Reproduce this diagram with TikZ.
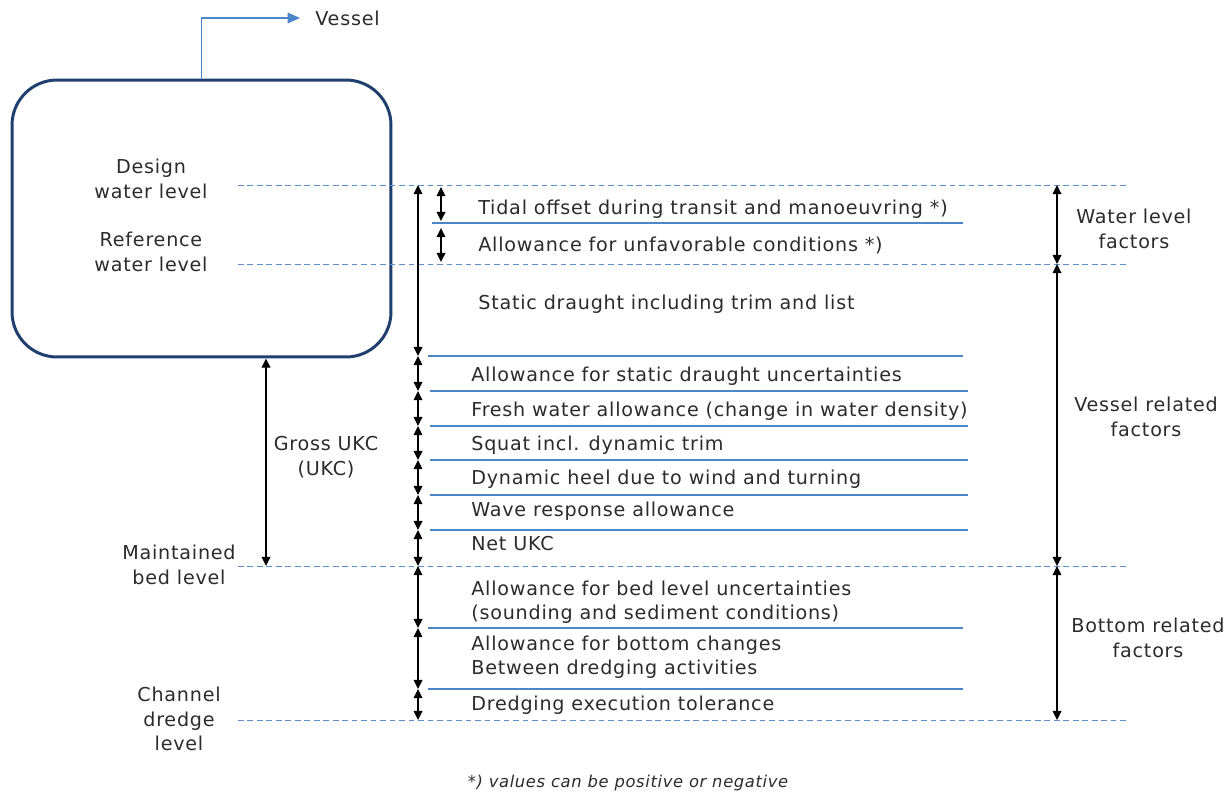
\documentclass[tikz,border=0pt]{standalone}
\usepackage{fontspec}
\setmainfont{DejaVu Sans}[LetterSpace=4]
\usepackage{xcolor}
\usetikzlibrary{positioning, arrows.meta, calc}
\definecolor{Navy}   {HTML}{1F3F6E}
\definecolor{SkyBlue}{HTML}{5B8FD0}
\definecolor{RuleBlue}{HTML}{4A86C8}
\definecolor{Ink}    {HTML}{2B2B2B}

\begin{document}
\begin{tikzpicture}[x=0.02cm, y=-0.02cm,
    txt/.style={font=\fontsize{10.9}{13.9}\selectfont, text=Ink, inner sep=0pt},
    lbl/.style={txt, align=center},
    level/.style={SkyBlue, line width=0.55pt, dash pattern=on 3.2pt off 2.2pt},
    sep/.style={RuleBlue, line width=0.6pt},
    dim/.style={black, line width=0.7pt, {Triangle[width=5pt,length=5.2pt]}-{Triangle[width=5pt,length=5.2pt]}}]
      \useasboundingbox (0,0) rectangle (1230,796);
      % ── vessel hull ─────────────────────────────────────────────────────────
      \node[draw=Navy, line width=1.7pt, rounded corners=0.9cm,
            minimum width=7.58cm, minimum height=5.54cm] (hull) at (201.5,218.5) {};
      \node[txt, anchor=west] (vessel) at (315,18) {Vessel};
      \coordinate (vtip) at (300,18);
      \draw[RuleBlue, line width=0.8pt, -{Triangle[width=6pt,length=7pt]}] (hull.north) |- (vtip);
      % ── reference levels (dashed) ───────────────────────────────────────────
      \foreach \n/\y in {dwl/185, rwl/264, mbl/566, cdl/720} {
        \coordinate (\n-l) at (238,\y);
        \coordinate (\n-r) at (1128,\y);
        \draw[level] (\n-l) -- (\n-r);
      }
      % ── level names on the left ─────────────────────────────────────────────
      \node[lbl] (dwlname) at (151,179) {Design\\water level};
      \node[lbl] (rwlname) at (151,252) {Reference\\water level};
      \node[lbl] (mblname) at (179,565) {Maintained\\bed level};
      \node[lbl] (cdlname) at (179,719) {Channel\\dredge\\level};
      % ── separators between components ───────────────────────────────────────
      \foreach \n/\y/\xa/\xb in {s1/223/432/963, s2/356/428/963, s3/391/430/968,
                                s4/426/430/968, s5/460/430/968, s6/495/430/968,
                                s7/530/430/968, s8/628/428/963, s9/689/428/963} {
        \coordinate (\n-l) at (\xa,\y);
        \coordinate (\n-r) at (\xb,\y);
        \draw[sep] (\n-l) -- (\n-r);
      }
      % ── stacked dimension arrows ────────────────────────────────────────────
      \foreach \n/\ya/\yb in {a0/185/356, a1/356/391, a2/391/426, a3/426/460,
                              a4/460/495, a5/495/530, a6/530/566, a7/566/628,
                              a8/628/689, a9/689/720} {
        \coordinate (\n-t) at (418,\ya);
        \coordinate (\n-b) at (418,\yb);
        \draw[dim] (\n-t) -- (\n-b);
      }
      \foreach \n/\ya/\yb in {w1/187/221, w2/228/262} {
        \coordinate (\n-t) at (441,\ya);
        \coordinate (\n-b) at (441,\yb);
        \draw[dim] (\n-t) -- (\n-b);
      }
      % ── component labels ────────────────────────────────────────────────────
      \foreach \n/\x/\y/\t in {c1/478/209/{Tidal offset during transit and manoeuvring *)},
                               c2/478/245/{Allowance for unfavorable conditions *)},
                               c3/478/304/{Static draught including trim and list},
                               c4/471/376/{Allowance for static draught uncertainties},
                               c5/471/411/{Fresh water allowance (change in water density)},
                               c6/471/445/{Squat incl. dynamic trim},
                               c7/471/479/{Dynamic heel due to wind and turning},
                               c8/471/511/{Wave response allowance},
                               c9/471/544/{Net UKC},
                               c10/471/602/{Allowance for bed level uncertainties\\(sounding and sediment conditions)},
                               c11/471/657/{Allowance for bottom changes\\Between dredging activities},
                               c12/471/705/{Dredging execution tolerance}} {
        \node[txt, anchor=west, align=left] (\n) at (\x,\y) {\t};
      }
      % ── gross UKC ───────────────────────────────────────────────────────────
      \coordinate (ukc-t) at (hull.south -| 266,0);
      \coordinate (ukc-b) at (266,566);
      \draw[dim] (ukc-t) -- (ukc-b);
      \node[lbl] (ukcname) at (326,457) {Gross UKC\\(UKC)};
      % ── factor groups on the right ──────────────────────────────────────────
      \foreach \n/\ya/\yb in {g1/185/264, g2/264/566, g3/566/720} {
        \coordinate (\n-t) at (1057,\ya);
        \coordinate (\n-b) at (1057,\yb);
        \draw[dim] (\n-t) -- (\n-b);
      }
      \node[lbl] (g1name) at (1134,229) {Water level\\factors};
      \node[lbl] (g2name) at (1146,417) {Vessel related\\factors};
      \node[lbl] (g3name) at (1148,638) {Bottom related\\factors};
      % ── footnote ────────────────────────────────────────────────────────────
      \node[txt, font=\fontsize{9.3}{12}\selectfont\itshape] (note) at (628,783)
        {*) values can be positive or negative};
\end{tikzpicture}
\end{document}
